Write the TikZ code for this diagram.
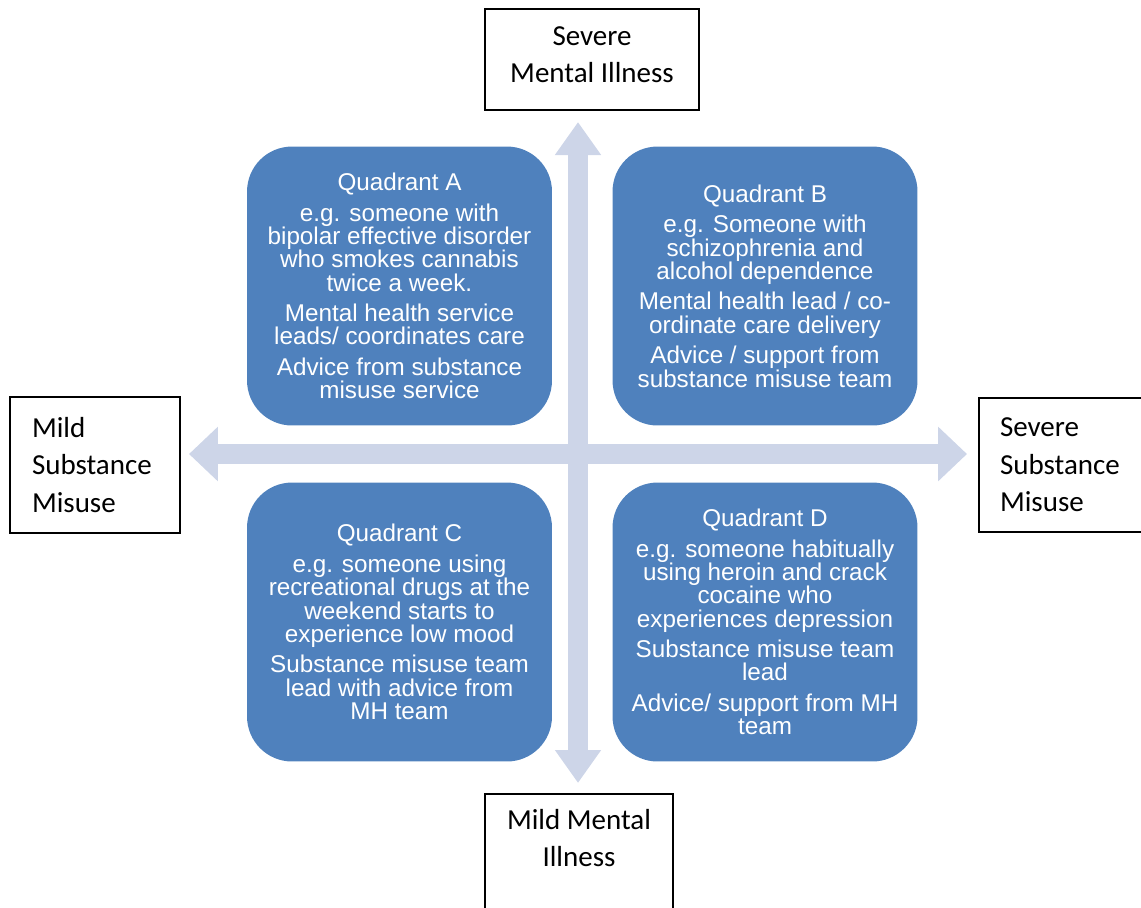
\documentclass[tikz,border=0pt]{standalone}
\usepackage{fontspec}
\setmainfont{Liberation Sans}
\newfontfamily\boxfont{Carlito}
\usetikzlibrary{arrows.meta}

\definecolor{quadblue}{HTML}{4F81BD}
\definecolor{axisblue}{HTML}{CDD5E8}

\begin{document}
\begin{tikzpicture}[x=0.02cm, y=-0.02cm,
        quad/.style={fill=quadblue, rounded corners=0.9cm, minimum width=6.1cm,
            minimum height=5.58cm, inner sep=0pt, text=white, align=center,
            font=\fontsize{13.8}{13.3}\selectfont},
        axis box/.style={draw=black, line width=1pt, fill=white,
            font=\boxfont\fontsize{16.5}{21.3}\selectfont},
        axis text/.style={inner sep=0pt, align=center,
            font=\boxfont\fontsize{16.5}{21.3}\selectfont},
        vaxis/.style={draw=axisblue, line width=0.4cm,
            {Triangle[width=0.88cm,length=0.66cm]}-{Triangle[width=0.88cm,length=0.66cm]}},
        haxis/.style={draw=axisblue, line width=0.4cm,
            {Triangle[width=1.06cm,length=0.58cm]}-{Triangle[width=1.06cm,length=0.58cm]}}]
                \clip (0,0) rectangle (1141,907);

                \coordinate (VT) at (578,122);
                \coordinate (VB) at (578,783);
                \coordinate (HL) at (189,454);
                \coordinate (HR) at (967,454);
                \draw[vaxis] (VB) -- (VT);
                \draw[haxis] (HL) -- (HR);

                \node[quad] (QA) at (399.5,286) {Quadrant A\\[4pt]
                    e.g. someone with\\bipolar effective disorder\\who smokes cannabis\\twice a week.\\[4pt]
                    Mental health service\\leads/ coordinates care\\[4pt]
                    Advice from substance\\misuse service};
                \node[quad] (QB) at (765,286) {Quadrant B\\[4pt]
                    e.g. Someone with\\schizophrenia and\\alcohol dependence\\[4pt]
                    Mental health lead / co-\\ordinate care delivery\\[4pt]
                    Advice / support from\\substance misuse team};
                \node[quad] (QC) at (399.5,622) {Quadrant C\\[4pt]
                    e.g. someone using\\recreational drugs at the\\weekend starts to\\experience low mood\\[4pt]
                    Substance misuse team\\lead with advice from\\MH team};
                \node[quad] (QD) at (765,622) {Quadrant D\\[4pt]
                    e.g. someone habitually\\using heroin and crack\\cocaine who\\experiences depression\\[4pt]
                    Substance misuse team\\lead\\[4pt]
                    Advice/ support from MH\\team};

                \node[axis box, minimum width=4.28cm, minimum height=2.02cm] (SMI) at (592,59.5) {};
                \node[axis text, anchor=north] (SMItext) at (592,26) {Severe\\Mental Illness};
                \node[axis box, text width=2.52cm, inner xsep=0.44cm, minimum height=2.72cm, align=left] (MSM) at (95,465) {Mild\\Substance\\Misuse};
                \node[axis box, text width=2.78cm, inner xsep=0.42cm, minimum height=2.68cm, align=left] (SSM) at (1069.5,465) {Severe\\Substance\\Misuse};
                \node[axis box, minimum width=3.76cm, minimum height=3cm, anchor=north] (MMI) at (579,793) {};
                \node[axis text, anchor=north] (MMItext) at (579,809) {Mild Mental\\Illness};
            \end{tikzpicture}
\end{document}
